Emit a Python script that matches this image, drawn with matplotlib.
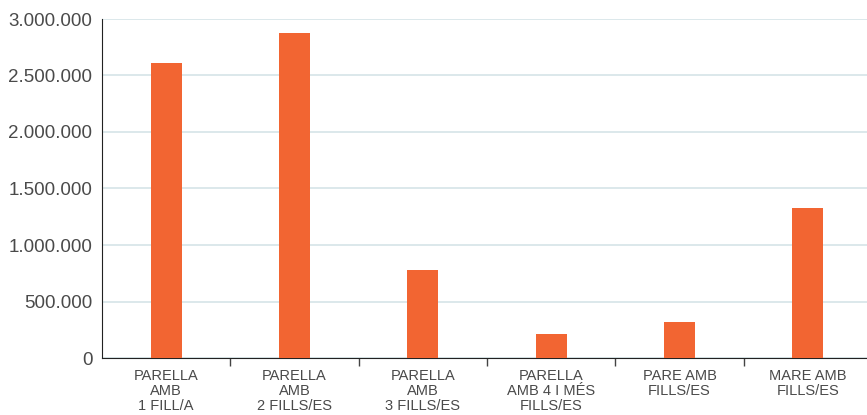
import matplotlib
matplotlib.use("Agg")
import matplotlib.pyplot as plt
from matplotlib.ticker import FuncFormatter, FixedLocator

categories = [
    "PARELLA\nAMB\n1 FILL/A",
    "PARELLA\nAMB\n2 FILLS/ES",
    "PARELLA\nAMB\n3 FILLS/ES",
    "PARELLA\nAMB 4 I MÉS\nFILLS/ES",
    "PARE AMB\nFILLS/ES",
    "MARE AMB\nFILLS/ES",
]
values = [2610000, 2875000, 780000, 212000, 320000, 1327000]
yticks = [0, 500000, 1000000, 1500000, 2000000, 2500000, 3000000]

plt.rcParams['font.family'] = ['Liberation Sans', 'DejaVu Sans']

fig = plt.figure(figsize=(8.67, 4.15), dpi=100)
ax = fig.add_axes([102 / 867, 1 - 358 / 415, 770 / 867, 339 / 415])

x = range(len(categories))
ax.bar(x, values, width=0.24, color="#f26532", zorder=3)

ax.set_xlim(-0.5, len(categories) - 0.5)
ax.set_ylim(0, 3000000)
ax.set_yticks(yticks)
ax.yaxis.set_major_formatter(FuncFormatter(lambda v, p: f"{int(v):,}".replace(",", ".")))
ax.grid(axis="y", color="#d6e4e7", linewidth=1.2, zorder=0)

ax.set_xticks([i + 0.5 for i in range(len(categories) - 1)])
ax.set_xticklabels([])
ax.xaxis.set_minor_locator(FixedLocator(list(x)))
ax.set_xticklabels(categories, minor=True, fontsize=10.5, color="#4a4a4a", linespacing=1.1)
ax.tick_params(axis="x", which="major", length=6, width=1, color="#444444", direction="out")
ax.tick_params(axis="x", which="minor", length=0, pad=8)
ax.tick_params(axis="y", length=0, labelsize=13.5, labelcolor="#4a4a4a", pad=7)

for s in ["top", "right"]:
    ax.spines[s].set_visible(False)
ax.spines["left"].set_color("#222222")
ax.spines["bottom"].set_color("#222222")

fig.savefig("out.png", dpi=100)
